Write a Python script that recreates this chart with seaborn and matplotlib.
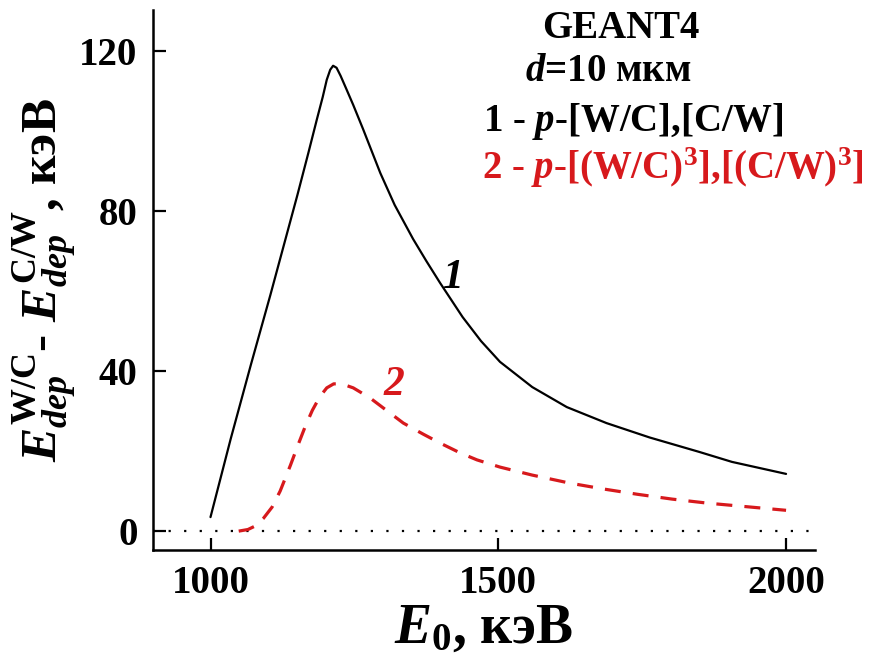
import matplotlib
matplotlib.use("Agg")
import matplotlib.pyplot as plt
import pandas as pd
import seaborn as sns

# Curve 1: p-[W/C],[C/W]
e1 = [1000, 1035, 1070, 1104, 1151, 1170, 1185, 1195, 1202, 1208, 1213, 1219,
      1226, 1236, 1248, 1265, 1280, 1295, 1320, 1352, 1375, 1399, 1438, 1470,
      1503, 1559, 1619, 1688, 1763, 1849, 1906, 2000]
v1 = [3.5, 23, 41.5, 59, 84, 94.5, 103, 108.5, 112.8, 115.3, 116.3, 115.8,
      113.8, 110.5, 106.5, 100.5, 95, 89.5, 81.5, 73, 67.5, 62, 53.5, 47.5,
      42.3, 36, 31, 27, 23.4, 19.8, 17.3, 14.3]

# Curve 2: p-[(W/C)^3],[(C/W)^3]
e2 = [1049, 1065, 1078, 1092, 1107, 1121, 1139, 1152, 1165, 1177, 1190, 1202,
      1214, 1228, 1248, 1277, 1312, 1335, 1370, 1399, 1433, 1463, 1503, 1559,
      1624, 1684, 1742, 1802, 1863, 1924, 2000]
v2 = [0, 0.4, 1.3, 3.2, 6, 10, 16.5, 21.5, 26.3, 30.2, 33.6, 35.8,
      36.8, 36.8, 35.8, 33.3, 29.5, 27, 24.2, 22, 19.6, 17.8, 16, 14,
      12, 10.5, 9.2, 8, 7, 6.2, 5.2]

x_ticks = [1000, 1500, 2000]
y_ticks = [0, 40, 80, 120]

RED = "#d7191c"

sns.set_style("ticks")
plt.rcParams["font.family"] = ["Liberation Serif", "DejaVu Serif"]
plt.rcParams["font.weight"] = "bold"
plt.rcParams["text.color"] = "black"
plt.rcParams["axes.labelcolor"] = "black"
plt.rcParams["xtick.color"] = "black"
plt.rcParams["ytick.color"] = "black"
plt.rcParams["axes.edgecolor"] = "black"
plt.rcParams["mathtext.fontset"] = "custom"
plt.rcParams["mathtext.rm"] = "Liberation Serif:bold"
plt.rcParams["mathtext.bf"] = "Liberation Serif:bold"
plt.rcParams["mathtext.it"] = "Liberation Serif:italic:bold"

df1 = pd.DataFrame({"E0": e1, "Edep": v1})
df2 = pd.DataFrame({"E0": e2, "Edep": v2})

fig = plt.figure(figsize=(8.79, 6.62), dpi=100)
ax = fig.add_axes([0.174, 0.169, 0.753, 0.816])

ax.axhline(0, color="black", lw=1.6, linestyle=(0, (1, 6)), zorder=1)
sns.lineplot(data=df1, x="E0", y="Edep", ax=ax, color="black", lw=1.6,
             sort=False, estimator=None)
sns.lineplot(data=df2, x="E0", y="Edep", ax=ax, color=RED, lw=2.3,
             linestyle=(0, (5, 3.8)), sort=False, estimator=None)

ax.set_xlim(900, 2050)
ax.set_ylim(-4.75, 130.25)
ax.set_xticks(x_ticks)
ax.set_yticks(y_ticks)
ax.tick_params(direction="in", length=9, width=1.6, pad=11, labelsize=28)
for lbl in ax.get_xticklabels() + ax.get_yticklabels():
    lbl.set_fontweight("bold")
sns.despine(ax=ax)
for s in ["left", "bottom"]:
    ax.spines[s].set_linewidth(1.8)

ax.set_xlabel(r"$E_{0}$, кэВ", fontsize=40, fontweight="bold", labelpad=0)
ax.set_ylabel(r"$E^{\mathrm{W/C}}_{dep}$- $E^{\mathrm{C/W}}_{dep}$, кэВ",
              fontsize=37, fontweight="bold", labelpad=0)

ax.text(1402, 60.7, "1", fontsize=30, style="italic", fontweight="bold",
        color="black")
ax.text(1300, 34, "2", fontsize=30, style="italic", fontweight="bold",
        color=RED)

fig.text(0.706, 0.943, "GEANT4", fontsize=28, fontweight="bold", ha="center",
         va="baseline")
fig.text(0.692, 0.878, r"$d$=10 мкм", fontsize=28, fontweight="bold",
         ha="center", va="baseline")
fig.text(0.549, 0.802, r"$1$ - $p$-[W/C],[C/W]", fontsize=28,
         fontweight="bold", ha="left", va="baseline")
fig.text(0.548, 0.730, r"$2$ - $p$-[(W/C)$^{3}$],[(C/W)$^{3}$]", fontsize=28,
         fontweight="bold", ha="left", va="baseline", color=RED)

fig.savefig("out.png", dpi=100)
